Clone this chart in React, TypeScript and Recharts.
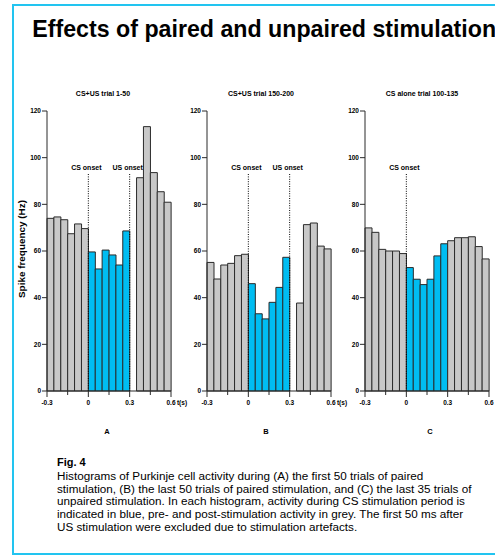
import React from 'react';
import { BarChart, Bar, XAxis, YAxis, Cell, ReferenceLine } from 'recharts';

// ---- data ----
const bins = ['-0.30', '-0.25', '-0.20', '-0.15', '-0.10', '-0.05', '0.00', '0.05', '0.10', '0.15', '0.20', '0.25', '0.30', '0.35', '0.40', '0.45', '0.50', '0.55'];
const phases = ['pre', 'pre', 'pre', 'pre', 'pre', 'pre', 'cs', 'cs', 'cs', 'cs', 'cs', 'cs', 'post', 'post', 'post', 'post', 'post', 'post'];
const valuesA = [74, 74.6, 73.4, 67.4, 71.6, 69.6, 59.6, 52.3, 60.4, 58.3, 54, 68.6, null, 91.4, 113.3, 93.6, 85.4, 80.9];
const valuesB = [55.1, 48, 54, 54.7, 58, 58.6, 46, 33.1, 30.9, 38, 44.4, 57.3, null, 37.7, 71.3, 72, 62.1, 60.9];
const valuesC = [69.9, 68, 60.7, 60, 60, 58.9, 52.9, 47.9, 45.6, 47.9, 57.9, 63.1, 64.4, 65.7, 65.7, 66.1, 61.9, 56.6];
const yTicks = [0, 20, 40, 60, 80, 100, 120];
// x ticks sit at the start of these bins; the last one closes the axis at 0.6
const xTickBins = ['-0.30', '-0.15', '0.00', '0.15', '0.30', '0.45'];
const xTickLabels = ['-0.3', '', '0', '', '0.3', ''];
const xEndBin = '0.55';
const xEndLabel = '0.6';
const csOnsetBin = '0.00';
const usOnsetBin = '0.30';
const onsetLineTop = 93;
const panelTitles = ['CS+US trial 1-50', 'CS+US trial 150-200', 'CS alone trial 100-135'];
const panelLetters = ['A', 'B', 'C'];
const captionLines = [
  'Histograms of Purkinje cell activity during (A) the first 50 trials of paired',
  'stimulation, (B) the last 50 trials of paired stimulation, and (C) the last 35 trials of',
  'unpaired stimulation. In each histogram, activity during CS stimulation period is',
  'indicated in blue, pre- and post-stimulation activity in grey. The first 50 ms after',
  'US stimulation were excluded due to stimulation artefacts.',
];

const FONT = '"Liberation Sans", Arial, sans-serif';
const NARROW = '"Liberation Sans Narrow", "Arial Narrow", "Liberation Sans", Arial, sans-serif';
const GREY = '#c8c8c8';
const BLUE = '#00bdf2';
const EDGE = '#2a2a2a';
const FRAME = '#22c4f0';

const CHART_W = 160;
const Y_W = 30;
const RIGHT_M = 6;
const PLOT_W = CHART_W - Y_W - RIGHT_M;
const BAND = PLOT_W / bins.length;

const XTick = (props: any) => {
  const { x, y, payload } = props;
  const val = payload.value;
  const idx = xTickBins.indexOf(val);
  const items: React.ReactNode[] = [];
  if (idx >= 0) {
    const major = xTickLabels[idx] !== '';
    const tx = x - BAND / 2;
    items.push(<line key="l" x1={tx} x2={tx} y1={y} y2={y + (major ? 6 : 4)} stroke={EDGE} strokeWidth={1} />);
    if (major)
      items.push(
        <text key="t" x={tx} y={y + 14} textAnchor="middle" fontSize={6.5} fontWeight={700} fontFamily={NARROW} fill="#000">
          {xTickLabels[idx]}
        </text>
      );
  }
  if (val === xEndBin) {
    const tx = x + BAND / 2;
    items.push(<line key="le" x1={tx} x2={tx} y1={y} y2={y + 6} stroke={EDGE} strokeWidth={1} />);
    items.push(
      <text key="te" x={tx} y={y + 14} textAnchor="middle" fontSize={6.5} fontWeight={700} fontFamily={NARROW} fill="#000">
        {xEndLabel}
      </text>
    );
  }
  return <g>{items}</g>;
};

const OnsetLabel = (text: string) => (props: any) => {
  const vb = props.viewBox || {};
  return (
    <text x={(vb.x || 0) - 2} y={(vb.y || 0) - 4} textAnchor="middle" fontSize={7} fontWeight={700} fontFamily={NARROW} fill="#000">
      {text}
    </text>
  );
};

type PanelProps = { values: (number | null)[]; left: number; showUS: boolean };

const Panel = ({ values, left, showUS }: PanelProps) => {
  const data = bins.map((b, i) => ({ bin: b, v: values[i], phase: phases[i] }));
  return (
    <div style={{ position: 'absolute', left, top: 100 }}>
      <BarChart width={CHART_W} height={316} data={data} margin={{ top: 11, right: RIGHT_M, left: 0, bottom: 0 }} barCategoryGap={0} barGap={0}>
        <XAxis
          dataKey="bin"
          type="category"
          interval={0}
          tickLine={false}
          tickSize={0}
          tickMargin={0}
          axisLine={{ stroke: EDGE, strokeWidth: 1 }}
          tick={<XTick />}
          height={25}
          padding={{ left: 0, right: 0 }}
        />
        <YAxis
          type="number"
          domain={[0, 120]}
          ticks={yTicks}
          interval={0}
          width={Y_W}
          tickSize={5}
          tickMargin={1}
          axisLine={{ stroke: EDGE, strokeWidth: 1 }}
          tickLine={{ stroke: EDGE, strokeWidth: 1 }}
          tick={{ fontSize: 6.5, fontWeight: 700, fontFamily: NARROW, fill: '#000' }}
        />
        <Bar dataKey="v" isAnimationActive={false} stroke={EDGE} strokeWidth={1}>
          {data.map((d, i) => (
            <Cell key={i} fill={d.phase === 'cs' ? BLUE : GREY} />
          ))}
        </Bar>
        <ReferenceLine
          segment={[{ x: csOnsetBin, y: 0 }, { x: csOnsetBin, y: onsetLineTop }]}
          position="start"
          stroke="#000"
          strokeWidth={1}
          strokeDasharray="1 1.4"
          label={OnsetLabel('CS onset')}
        />
        {showUS && (
          <ReferenceLine
            segment={[{ x: usOnsetBin, y: 0 }, { x: usOnsetBin, y: onsetLineTop }]}
            position="start"
            stroke="#000"
            strokeWidth={1}
            strokeDasharray="1 1.4"
            label={OnsetLabel('US onset')}
          />
        )}
      </BarChart>
    </div>
  );
};

export default function App() {
  const titleX = [103, 261, 422];
  const letterX = [107, 266, 430];
  return (
    <div style={{ position: 'absolute', left: 0, top: 0, width: 495, height: 557, overflow: 'hidden', background: '#fff' }}>
      <div style={{ position: 'absolute', left: 12, top: 4, width: 520, height: 547, border: `2px solid ${FRAME}` }} />
      <svg width={495} height={557} style={{ position: 'absolute', left: 0, top: 0 }}>
        <text x={32.3} y={36.7} fontSize={23.2} fontWeight={700} fontFamily={FONT} fill="#000">
          Effects of paired and unpaired stimulation
        </text>
        {panelTitles.map((t, i) => (
          <text key={t} x={titleX[i]} y={95.5} textAnchor="middle" fontSize={7} fontWeight={700} fontFamily={NARROW} fill="#000">
            {t}
          </text>
        ))}
        <text
          x={0}
          y={0}
          transform="translate(24.5 249) rotate(-90)"
          textAnchor="middle"
          fontSize={8.5}
          fontWeight={700}
          fontFamily={FONT}
          fill="#000"
          textLength={98}
          lengthAdjust="spacingAndGlyphs"
        >
          Spike frequency (Hz)
        </text>
        {panelLetters.map((t, i) => (
          <text key={t} x={letterX[i]} y={434} textAnchor="middle" fontSize={7.5} fontWeight={700} fontFamily={FONT} fill="#000">
            {t}
          </text>
        ))}
        <text x={182} y={405} textAnchor="middle" fontSize={6.5} fontWeight={700} fontFamily={NARROW} fill="#000">t(s)</text>
        <text x={342} y={405} textAnchor="middle" fontSize={6.5} fontWeight={700} fontFamily={NARROW} fill="#000">t(s)</text>
        <text x={57} y={466} fontSize={11} fontWeight={700} fontFamily={FONT} fill="#000">Fig. 4</text>
        {captionLines.map((l, i) => (
          <text key={i} x={57} y={480 + i * 12.67} fontSize={11.7} fontFamily={FONT} fill="#000">
            {l}
          </text>
        ))}
      </svg>
      <Panel values={valuesA} left={16.7} showUS={true} />
      <Panel values={valuesB} left={176.7} showUS={true} />
      <Panel values={valuesC} left={335} showUS={false} />
    </div>
  );
}
